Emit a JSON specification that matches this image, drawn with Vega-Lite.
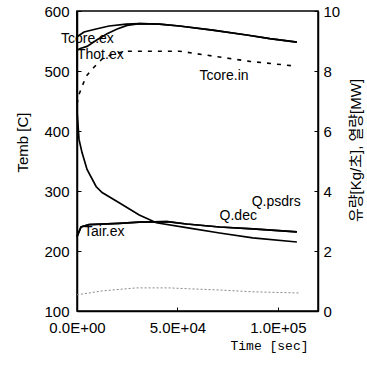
{
  "$schema": "https://vega.github.io/schema/vega-lite/v6.json",
  "width": 241,
  "height": 300,
  "autosize": "none",
  "padding": {"left": 77, "top": 11, "right": 49, "bottom": 54},
  "background": "white",
  "config": {
    "view": {"stroke": "black", "strokeWidth": 1.5},
    "font": "Liberation Sans",
    "axis": {"grid": false, "domainColor": "black", "domainWidth": 1.5, "tickColor": "black", "labelColor": "black", "titleColor": "black", "labelFontSize": 15, "titleFontSize": 15, "titleFontWeight": "normal", "labelFont": "Liberation Sans", "titleFont": "Liberation Sans", "labelFlush": false}
  },
  "datasets": {
    "temp": [
      {"series": "Tcore.ex", "t": 0, "v": 557},
      {"series": "Tcore.ex", "t": 3500, "v": 565},
      {"series": "Tcore.ex", "t": 9500, "v": 570},
      {"series": "Tcore.ex", "t": 16000, "v": 575},
      {"series": "Tcore.ex", "t": 24500, "v": 578},
      {"series": "Tcore.ex", "t": 31000, "v": 579},
      {"series": "Tcore.ex", "t": 41000, "v": 578},
      {"series": "Tcore.ex", "t": 51000, "v": 575},
      {"series": "Tcore.ex", "t": 67500, "v": 568},
      {"series": "Tcore.ex", "t": 84500, "v": 560},
      {"series": "Tcore.ex", "t": 96000, "v": 554},
      {"series": "Tcore.ex", "t": 109500, "v": 548},
      {"series": "Thot.ex", "t": 0, "v": 535},
      {"series": "Thot.ex", "t": 2000, "v": 538},
      {"series": "Thot.ex", "t": 5000, "v": 541},
      {"series": "Thot.ex", "t": 10000, "v": 552},
      {"series": "Thot.ex", "t": 15000, "v": 562},
      {"series": "Thot.ex", "t": 20000, "v": 570},
      {"series": "Thot.ex", "t": 25000, "v": 576},
      {"series": "Thot.ex", "t": 31000, "v": 579},
      {"series": "Thot.ex", "t": 41000, "v": 578},
      {"series": "Thot.ex", "t": 51000, "v": 575},
      {"series": "Thot.ex", "t": 67500, "v": 568},
      {"series": "Thot.ex", "t": 84500, "v": 560},
      {"series": "Thot.ex", "t": 96000, "v": 554},
      {"series": "Thot.ex", "t": 109500, "v": 548},
      {"series": "Tair.ex", "t": 0, "v": 224},
      {"series": "Tair.ex", "t": 2000, "v": 240},
      {"series": "Tair.ex", "t": 6000, "v": 244},
      {"series": "Tair.ex", "t": 21000, "v": 246},
      {"series": "Tair.ex", "t": 31000, "v": 248},
      {"series": "Tair.ex", "t": 45000, "v": 249},
      {"series": "Tair.ex", "t": 54500, "v": 245},
      {"series": "Tair.ex", "t": 71000, "v": 240},
      {"series": "Tair.ex", "t": 87500, "v": 237},
      {"series": "Tair.ex", "t": 109500, "v": 232},
      {"series": "Tcore.in", "t": 0, "v": 445},
      {"series": "Tcore.in", "t": 1000, "v": 461},
      {"series": "Tcore.in", "t": 4500, "v": 491},
      {"series": "Tcore.in", "t": 7500, "v": 503},
      {"series": "Tcore.in", "t": 12500, "v": 520},
      {"series": "Tcore.in", "t": 17500, "v": 528},
      {"series": "Tcore.in", "t": 24500, "v": 533},
      {"series": "Tcore.in", "t": 31000, "v": 533},
      {"series": "Tcore.in", "t": 51000, "v": 533},
      {"series": "Tcore.in", "t": 67500, "v": 525},
      {"series": "Tcore.in", "t": 86000, "v": 516},
      {"series": "Tcore.in", "t": 109500, "v": 508}
    ],
    "mw": [
      {"series": "Q.dec", "t": 0, "v": 10},
      {"series": "Q.dec", "t": 100, "v": 6.6},
      {"series": "Q.dec", "t": 1000, "v": 5.72},
      {"series": "Q.dec", "t": 2500, "v": 5.28},
      {"series": "Q.dec", "t": 5000, "v": 4.72},
      {"series": "Q.dec", "t": 9500, "v": 4.15},
      {"series": "Q.dec", "t": 12500, "v": 3.95},
      {"series": "Q.dec", "t": 21000, "v": 3.61},
      {"series": "Q.dec", "t": 31000, "v": 3.2},
      {"series": "Q.dec", "t": 39500, "v": 2.94},
      {"series": "Q.dec", "t": 54500, "v": 2.78},
      {"series": "Q.dec", "t": 71000, "v": 2.6},
      {"series": "Q.dec", "t": 87500, "v": 2.44},
      {"series": "Q.dec", "t": 109500, "v": 2.3},
      {"series": "Q.psdrs", "t": 0, "v": 2.48},
      {"series": "Q.psdrs", "t": 2000, "v": 2.8},
      {"series": "Q.psdrs", "t": 6000, "v": 2.88},
      {"series": "Q.psdrs", "t": 21000, "v": 2.92},
      {"series": "Q.psdrs", "t": 31000, "v": 2.96},
      {"series": "Q.psdrs", "t": 45000, "v": 2.98},
      {"series": "Q.psdrs", "t": 54500, "v": 2.9},
      {"series": "Q.psdrs", "t": 71000, "v": 2.8},
      {"series": "Q.psdrs", "t": 87500, "v": 2.74},
      {"series": "Q.psdrs", "t": 109500, "v": 2.64},
      {"series": "Flow", "t": 0, "v": 0.54},
      {"series": "Flow", "t": 6000, "v": 0.6},
      {"series": "Flow", "t": 12500, "v": 0.67},
      {"series": "Flow", "t": 29500, "v": 0.77},
      {"series": "Flow", "t": 46000, "v": 0.77},
      {"series": "Flow", "t": 56000, "v": 0.74},
      {"series": "Flow", "t": 71000, "v": 0.7},
      {"series": "Flow", "t": 87500, "v": 0.64},
      {"series": "Flow", "t": 111000, "v": 0.6}
    ],
    "labels": [
      {"text": "Tcore.ex", "t": -8000, "v": 553},
      {"text": "Thot.ex", "t": 0, "v": 526},
      {"text": "Tcore.in", "t": 61000, "v": 491},
      {"text": "Q.psdrs", "t": 87000, "v": 282},
      {"text": "Q.dec", "t": 71000, "v": 259},
      {"text": "Tair.ex", "t": 3500, "v": 232}
    ]
  },
  "layer": [
    {
      "layer": [
        {
          "data": {"name": "temp"},
          "transform": [{"filter": "datum.series != 'Tcore.in'"}],
          "mark": {"type": "line", "color": "black", "strokeWidth": 1.7},
          "encoding": {
            "x": {"field": "t", "type": "quantitative", "scale": {"domain": [0, 120000]},
              "axis": {"values": [0, 50000, 100000], "labelExpr": "datum.value == 0 ? '0.0E+00' : datum.value == 50000 ? '5.0E+04' : '1.0E+05'", "title": "Time [sec]", "titleFont": "Liberation Mono", "titleFontSize": 13, "tickSize": -4, "labelPadding": 13, "titleX": 192, "titleY": 34, "titleBaseline": "middle", "titleAlign": "center"}},
            "y": {"field": "v", "type": "quantitative", "scale": {"domain": [100, 600]},
              "axis": {"values": [100, 150, 200, 250, 300, 350, 400, 450, 500, 550, 600], "title": "Temb [C]", "tickSize": -4, "labelPadding": 12, "titleAngle": 270, "titleX": -55, "titleY": 131, "titleAlign": "center", "titleBaseline": "middle"}},
            "detail": {"field": "series"}
          }
        },
        {
          "data": {"name": "temp"},
          "transform": [{"filter": "datum.series == 'Tcore.in'"}],
          "mark": {"type": "line", "color": "black", "strokeWidth": 1.6, "strokeDash": [4, 6]},
          "encoding": {
            "x": {"field": "t", "type": "quantitative"},
            "y": {"field": "v", "type": "quantitative"}
          }
        },
        {
          "data": {"name": "labels"},
          "mark": {"type": "text", "align": "left", "baseline": "middle", "fontSize": 14, "color": "black", "font": "Liberation Sans"},
          "encoding": {
            "x": {"field": "t", "type": "quantitative"},
            "y": {"field": "v", "type": "quantitative"},
            "text": {"field": "text"}
          }
        }
      ]
    },
    {
      "layer": [
        {
          "data": {"name": "mw"},
          "transform": [{"filter": "datum.series != 'Flow'"}],
          "mark": {"type": "line", "color": "black", "strokeWidth": 1.7},
          "encoding": {
            "x": {"field": "t", "type": "quantitative"},
            "y": {"field": "v", "type": "quantitative", "scale": {"domain": [0, 10]},
              "axis": {"orient": "right", "values": [0, 1, 2, 3, 4, 5, 6, 7, 8, 9, 10], "title": "유량[Kg/초], 열량[MW]", "titleFont": "Liberation Sans, Noto Sans CJK KR", "titleFontSize": 15, "tickSize": -4, "labelPadding": 9, "titleAngle": 270, "titleX": 37, "titleY": 139, "titleAlign": "center", "titleBaseline": "middle"}},
            "detail": {"field": "series"}
          }
        },
        {
          "data": {"name": "mw"},
          "transform": [{"filter": "datum.series == 'Flow'"}],
          "mark": {"type": "line", "color": "#888888", "strokeWidth": 1, "strokeDash": [2, 2]},
          "encoding": {
            "x": {"field": "t", "type": "quantitative"},
            "y": {"field": "v", "type": "quantitative"}
          }
        }
      ]
    }
  ],
  "resolve": {"scale": {"y": "independent"}}
}
